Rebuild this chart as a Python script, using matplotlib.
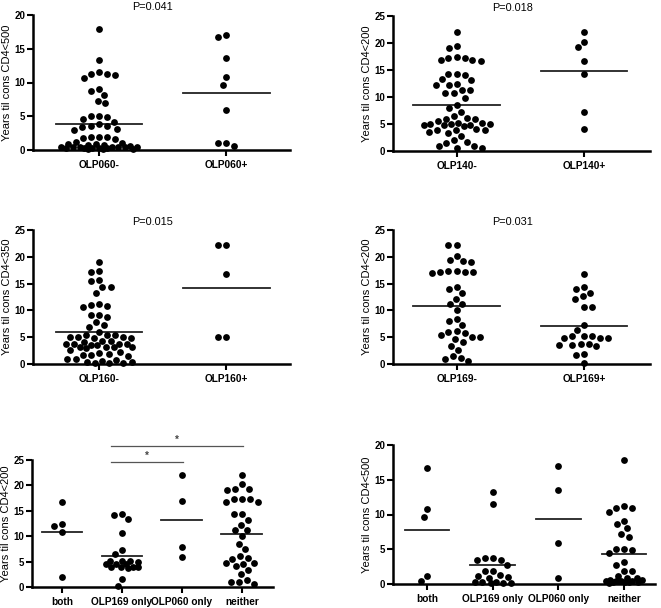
import numpy as np
import matplotlib
matplotlib.use('Agg')
import matplotlib.pyplot as plt

plt.rcParams['font.family'] = ['Liberation Sans', 'DejaVu Sans']
plt.rcParams['font.weight'] = 'bold'

# ---- data ----
# panel 1: CD4<500 by OLP060
olp060_cats = ['OLP060-', 'OLP060+']
olp060_neg = [18.0, 13.3, 11.5, 11.2, 10.7, 11.1, 11.3, 9.1, 8.8, 8.1, 7.3, 6.9,
              5.1, 4.9, 4.6, 5.0, 4.2, 3.5, 3.4, 3.0, 3.1, 3.5, 3.8,
              2.0, 1.8, 1.6, 1.9, 2.0,
              1.0, 0.7, 0.6, 0.5, 0.4, 0.3, 0.8, 1.2, 0.9, 0.3, 0.5, 0.4, 0.2,
              0.3, 0.5, 0.9, 0.2, 0.3, 0.4, 0.3, 0.2, 0.4]
olp060_pos = [17.1, 16.8, 13.6, 10.8, 9.7, 5.9, 1.1, 1.0, 0.6]

# panel 2: CD4<200 by OLP140
olp140_cats = ['OLP140-', 'OLP140+']
olp140_neg = [22.1, 19.4, 19.0, 17.3, 16.9, 16.7, 16.8, 17.3, 17.5, 14.2, 14.1, 14.3,
              13.3, 12.5, 12.2, 12.2, 13.1, 11.3, 10.8, 9.9, 10.8, 11.3, 8.5, 8.0, 7.2,
              6.1, 5.9, 4.8, 4.6, 5.2, 5.0, 4.9, 5.0, 5.0, 5.2, 5.6, 6.0, 6.5, 4.8,
              3.9, 3.8, 3.4, 3.6, 3.8, 4.0, 2.7, 2.0, 1.4, 1.0, 0.5, 0.6, 1.0, 1.6]
olp140_pos = [22.1, 19.2, 20.2, 16.7, 14.2, 7.3, 4.1]

# panel 3: CD4<350 by OLP160
olp160_cats = ['OLP160-', 'OLP160+']
olp160_neg = [19.1, 17.4, 17.1, 15.4, 15.7, 14.3, 14.3, 13.3, 11.0, 10.7, 10.9, 11.2,
              9.1, 8.7, 9.2, 7.8, 6.9, 7.3,
              5.5, 5.5, 5.0, 4.8, 4.8, 5.0, 5.0, 5.5, 6.0,
              4.3, 4.2, 3.6, 3.8, 3.7, 3.8, 3.6, 3.8, 4.1,
              3.2, 3.2, 3.0, 3.2, 3.1, 2.7,
              2.2, 1.7, 1.5, 1.6, 1.8, 2.0,
              0.9, 0.8, 0.4, 0.2, 0.2, 0.2, 0.4, 0.6, 0.9]
olp160_pos = [22.2, 22.2, 16.7, 5.0, 5.0]

# panel 4: CD4<200 by OLP169
olp169_cats = ['OLP169-', 'OLP169+']
olp169_neg = [22.2, 22.2, 20.2, 19.4, 19.0, 19.3, 17.3, 17.2, 17.1, 16.9, 17.1, 17.4,
              13.2, 14.0, 14.3, 12.2, 11.2, 11.2, 10.0, 8.1, 8.4, 7.3,
              6.2, 5.8, 5.5, 6.0, 5.0, 4.7, 5.0, 4.1, 3.4, 2.6, 1.05, 0.55, 1.0, 1.4]
olp169_pos = [16.7, 14.3, 14.0, 13.3, 12.6, 12.1, 10.7, 10.7, 7.2, 6.4,
              4.8, 5.2, 5.2, 5.2, 4.8, 4.8, 3.8, 3.6, 3.3, 3.6, 3.8, 1.9, 1.6, 0.25]

# panels 5 and 6: combined groups
combo_cats = ['both', 'OLP169 only', 'OLP060 only', 'neither']
cd200_both = [16.7, 12.1, 12.5, 10.8, 1.9]
cd200_169only = [14.2, 13.3, 14.4, 10.7, 7.3, 6.4, 5.2, 5.1, 4.9, 5.2, 4.6, 4.5, 4.6,
                 3.9, 3.9, 3.7, 3.9, 3.9, 1.6, 0.2]
cd200_060only = [22.1, 17.0, 7.9, 6.0]
cd200_neither = [22.1, 20.2, 19.3, 19.0, 19.3, 17.3, 16.8, 16.8, 17.3, 17.3, 14.3, 14.3,
                 13.2, 12.3, 11.3, 11.3, 10.0, 8.5, 7.4, 5.8, 6.1, 5.5, 4.8, 4.6, 4.8,
                 4.2, 3.4, 2.6, 1.0, 0.6, 0.9, 1.4]
cd500_both = [16.7, 10.8, 9.7, 0.4, 1.1]
cd500_169only = [13.3, 11.5, 3.7, 3.4, 3.5, 3.8, 2.8, 1.9, 1.9, 1.2, 1.0, 1.3, 0.9,
                 0.3, 0.2, 0.2, 0.3, 0.2, 0.3]
cd500_060only = [17.0, 13.5, 5.9, 0.9]
cd500_neither = [17.9, 11.0, 10.4, 10.9, 11.2, 8.6, 8.0, 9.1, 6.8, 7.2, 5.0, 4.9, 4.5, 5.0,
                 3.2, 2.8, 1.9, 1.9, 1.2, 0.9, 0.6, 0.4, 0.3, 0.3, 0.5, 0.2, 0.3, 0.6,
                 0.4, 0.5, 0.8, 0.3]

W, H = 661, 608
fig = plt.figure(figsize=(W / 100, H / 100), dpi=100)


def make_ax(left, right, top, bottom):
    return fig.add_axes([left / W, 1 - bottom / H, (right - left) / W, (bottom - top) / H])


def swarm(ax, xc, vals, lim, d=8.2):
    # beeswarm in pixel space, squeezed into +-lim pixels
    vals = np.asarray(vals, float)
    ypx = ax.transData.transform(np.column_stack([np.zeros_like(vals), vals]))[:, 1]
    xunit = ax.transData.transform([(1, 0)])[0, 0] - ax.transData.transform([(0, 0)])[0, 0]
    grid = np.linspace(-lim, lim, int(2 * lim) + 1)
    offs = np.zeros(len(vals))
    placed = []
    for i in np.argsort(-vals):
        y = ypx[i]
        iv = []
        near = []
        for xj, yj in placed:
            dy = abs(y - yj)
            if dy < d:
                w = np.sqrt(d * d - dy * dy)
                iv.append((xj - w, xj + w))
                near.append((xj, dy))
        cands = [0.0] + [a for a, b in iv] + [b for a, b in iv]
        cands = [c for c in cands if abs(c) <= lim + 1e-6]
        cands.sort(key=lambda c: (abs(c), c))
        free = [c for c in cands if all(not (a + 1e-6 < c < b - 1e-6) for a, b in iv)]
        if free:
            offs[i] = free[0]
        else:
            best = max(grid, key=lambda c: (min(np.hypot(c - xj, dy) for xj, dy in near), -abs(c)))
            offs[i] = best
        placed.append((offs[i], y))
    ax.scatter(xc + offs / xunit, vals, s=24, color='black', linewidths=0,
               zorder=3, clip_on=False)
    m = vals.mean()
    ax.plot([xc - 0.34, xc + 0.34], [m, m], color='#222222', lw=1.3, zorder=2)


def style(ax, cats, xlim, ylim, ystep, ylabel, title=None):
    ax.set_xlim(*xlim)
    ax.set_ylim(*ylim)
    ax.set_xticks(range(len(cats)))
    ax.set_xticklabels(cats, fontsize=7.3)
    ax.set_yticks(np.arange(0, ylim[1] + 0.1, ystep))
    ax.tick_params(axis='y', labelsize=7, length=4, width=1.5, pad=1.5)
    ax.tick_params(axis='x', length=4, width=1.5, pad=3)
    for s in ['top', 'right']:
        ax.spines[s].set_visible(False)
    for s in ['left', 'bottom']:
        ax.spines[s].set_linewidth(1.8)
    ax.set_ylabel(ylabel, fontsize=8, labelpad=1.5)
    if title:
        ax.text(0.465, 1.02, title, transform=ax.transAxes, ha='center', va='bottom',
                fontsize=7.8, fontweight='normal')


ax1 = make_ax(33, 290, 15, 150)
style(ax1, olp060_cats, (-0.52, 1.5), (0, 20), 5, 'Years til cons CD4<500', 'P=0.041')
swarm(ax1, 0, olp060_neg, 38)
swarm(ax1, 1, olp060_pos, 38)

ax2 = make_ax(393, 650, 16, 151)
style(ax2, olp140_cats, (-0.5, 1.52), (0, 25), 5, 'Years til cons CD4<200', 'P=0.018')
swarm(ax2, 0, olp140_neg, 33)
swarm(ax2, 1, olp140_pos, 33)

ax3 = make_ax(33, 290, 230, 364)
style(ax3, olp160_cats, (-0.52, 1.5), (0, 25), 5, 'Years til cons CD4<350', 'P=0.015')
swarm(ax3, 0, olp160_neg, 33)
swarm(ax3, 1, olp160_pos, 33)

ax4 = make_ax(393, 650, 230, 364)
style(ax4, olp169_cats, (-0.5, 1.52), (0, 25), 5, 'Years til cons CD4<200', 'P=0.031')
swarm(ax4, 0, olp169_neg, 26)
swarm(ax4, 1, olp169_pos, 26)

ax5 = make_ax(32, 273, 460, 587)
style(ax5, combo_cats, (-0.5, 3.52), (0, 25), 5, 'Years til cons CD4<200')
for i, g in enumerate([cd200_both, cd200_169only, cd200_060only, cd200_neither]):
    swarm(ax5, i, g, 16)
# significance brackets
for x1, x2, yl in [(0.82, 2.02, 24.6), (0.82, 3.02, 27.8)]:
    ax5.plot([x1, x2], [yl, yl], color='#555555', lw=0.9, clip_on=False)
    ax5.text((x1 + x2) / 2, yl + 0.2, '*', ha='center', va='bottom', fontsize=7,
             color='#444444', clip_on=False)

ax6 = make_ax(393, 655, 445, 584)
style(ax6, combo_cats, (-0.52, 3.47), (0, 20), 5, 'Years til cons CD4<500')
for i, g in enumerate([cd500_both, cd500_169only, cd500_060only, cd500_neither]):
    swarm(ax6, i, g, 18)

fig.savefig('out.png', dpi=100)
